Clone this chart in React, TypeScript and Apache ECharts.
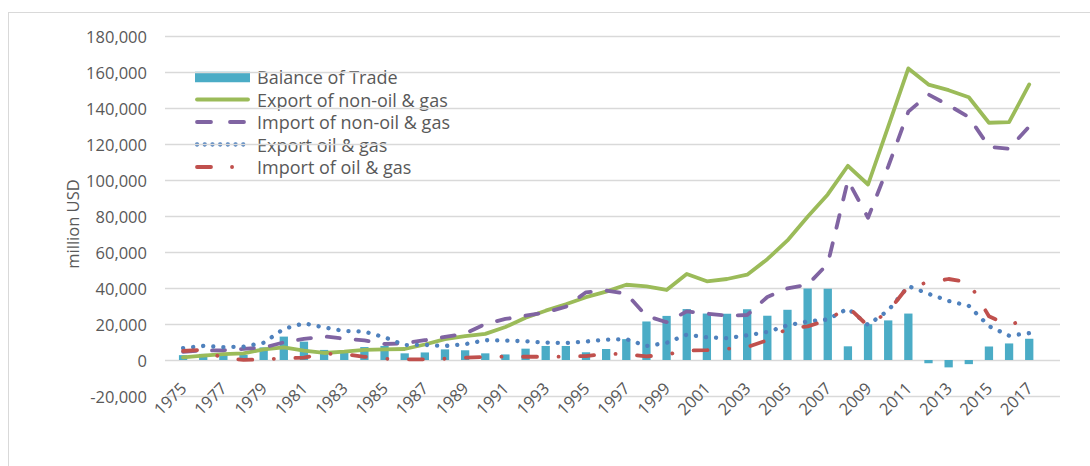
import React, { useEffect, useRef } from "react";
import * as echarts from "echarts";

// Years on the category axis
const years = [
  "1975", "1976", "1977", "1978", "1979", "1980", "1981", "1982", "1983", "1984",
  "1985", "1986", "1987", "1988", "1989", "1990", "1991", "1992", "1993", "1994",
  "1995", "1996", "1997", "1998", "1999", "2000", "2001", "2002", "2003", "2004",
  "2005", "2006", "2007", "2008", "2009", "2010", "2011", "2012", "2013", "2014",
  "2015", "2016", "2017",
];

// million USD
const balanceOfTrade = [
  2700, 3400, 3700, 2800, 7000, 13000, 10200, 5600, 5200, 7200,
  7800, 3700, 4200, 5900, 5400, 3700, 3100, 6300, 7800, 7800,
  4300, 6100, 11600, 21400, 24500, 28300, 25800, 25700, 28200, 24600,
  27900, 39700, 39600, 7600, 19900, 22000, 25800, -1800, -4100, -2300,
  7500, 9200, 11800,
];

const exportNonOilGas = [
  1500, 2400, 3300, 3700, 5900, 7000, 5200, 3900, 4600, 5600,
  5900, 6100, 8600, 11600, 13300, 14500, 18300, 23500, 27400, 31000,
  34900, 38000, 41800, 40900, 38900, 47800, 43700, 45000, 47400, 56000,
  66400, 79600, 92000, 107900, 97500, 129700, 162000, 153000, 149900, 146000,
  131800, 132100, 153100,
];

const importNonOilGas = [
  4500, 5300, 5400, 6200, 6900, 9800, 11700, 13100, 11800, 10900,
  8900, 9300, 11000, 12800, 14700, 20000, 22800, 24600, 26400, 29600,
  37600, 38600, 36800, 24500, 21000, 27000, 25800, 24600, 25000, 35000,
  39800, 41800, 53500, 99800, 79000, 107500, 138000, 147500, 141500, 135000,
  118500, 117300, 129800,
];

const exportOilGas = [
  6600, 7800, 7200, 7400, 9600, 17300, 20400, 18100, 16100, 15800,
  12600, 8300, 8400, 7800, 8800, 11000, 10800, 10400, 9700, 9400,
  10300, 11300, 11600, 7800, 9500, 14100, 12600, 12100, 13700, 15600,
  19300, 21400, 22500, 28600, 19500, 27500, 41000, 36800, 32800, 30100,
  18800, 13500, 14900,
];

const importOilGas = [
  5000, 5700, 900, 100, 300, 900, 1300, 3500, 3300, 1800,
  700, 400, 400, 700, 1300, 1700, 1900, 1800, 1800, 1900,
  2200, 3500, 3300, 2000, 3000, 5200, 5500, 6200, 7200, 11000,
  17500, 18700, 22200, 29500, 18900, 27000, 41000, 43000, 45000, 43200,
  24300, 19200, 23500,
];

const yTicks = { min: -20000, max: 180000, interval: 20000 };

const FONT = "'Open Sans', 'Noto Sans', sans-serif";
const TEXT = "#595959";
const GRID_LINE = "#D9D9D9";

const COLORS = {
  balance: "#4BACC6",
  exportNonOil: "#9BBB59",
  importNonOil: "#8064A2",
  exportOil: "#4F81BD",
  importOil: "#C0504D",
};

const LINE_W = 3.8;
const DOT_W = 4.3;

// Hand-drawn legend: icon column 195–250, text from x = 257
function legendGraphics() {
  const textX = 257;
  const rows = [77, 99.5, 122, 144.5, 167];
  const names = [
    "Balance of Trade",
    "Export of non-oil & gas",
    "Import of non-oil & gas",
    "Export oil & gas",
    "Import of oil & gas",
  ];
  const els: any[] = [];
  els.push({
    type: "rect",
    shape: { x: 195, y: rows[0] - 5.3, width: 55, height: 10.6 },
    style: { fill: COLORS.balance },
  });
  const lineIcon = (
    y: number,
    stroke: string,
    width: number,
    dash: number[] | null,
    xa: number,
    xb: number
  ) => ({
    type: "line",
    shape: { x1: xa, y1: y, x2: xb, y2: y },
    style: {
      stroke,
      lineWidth: width,
      lineCap: "round",
      lineDash: dash || undefined,
    },
  });
  els.push(lineIcon(rows[1], COLORS.exportNonOil, LINE_W, null, 197, 248));
  els.push(lineIcon(rows[2], COLORS.importNonOil, LINE_W, [14, 19], 197, 249));
  els.push(lineIcon(rows[3], COLORS.exportOil, DOT_W, [0.1, 7.6], 197, 250));
  els.push(lineIcon(rows[4], COLORS.importOil, LINE_W, [14, 21, 0.1, 40], 197, 240));
  names.forEach((n, i) => {
    els.push({
      type: "text",
      x: textX,
      y: rows[i],
      style: {
        text: n,
        fontSize: 18,
        fontFamily: FONT,
        fill: TEXT,
        align: "left",
        verticalAlign: "middle",
      },
    });
  });
  return els;
}

export default function App() {
  const ref = useRef<HTMLDivElement>(null);

  useEffect(() => {
    if (!ref.current) return;
    const chart = echarts.init(ref.current, undefined, { renderer: "svg" });

    const fmt = (v: number) => v.toLocaleString("en-US");

    chart.setOption({
      animation: false,
      backgroundColor: "#ffffff",
      textStyle: { fontFamily: FONT },
      grid: [
        // data area
        { left: 173, right: 50.7, top: 36, bottom: 70 },
        // value gridlines and tick labels
        { left: 165, right: 30, top: 36, bottom: 70 },
      ],
      xAxis: [
        {
          gridIndex: 0,
          type: "category",
          data: years,
          boundaryGap: true,
          axisLine: { show: false, onZero: false },
          axisTick: { show: false },
          axisLabel: {
            interval: 1,
            rotate: 45,
            margin: -11,
            fontSize: 16.5,
            color: TEXT,
            fontFamily: FONT,
          },
        },
        { gridIndex: 1, type: "value", show: false },
      ],
      yAxis: [
        {
          gridIndex: 0,
          type: "value",
          ...yTicks,
          axisLine: { show: false },
          axisTick: { show: false },
          axisLabel: { show: false },
          splitLine: { show: false },
        },
        {
          gridIndex: 1,
          type: "value",
          ...yTicks,
          axisLine: { show: false },
          axisTick: { show: false },
          axisLabel: {
            formatter: fmt,
            fontSize: 16.5,
            color: TEXT,
            fontFamily: FONT,
            margin: 18,
          },
          splitLine: { lineStyle: { color: GRID_LINE, width: 1.3 } },
        },
      ],
      graphic: [
        {
          type: "line",
          shape: { x1: 8, y1: 12.5, x2: 1090, y2: 12.5 },
          style: { stroke: GRID_LINE, lineWidth: 1 },
        },
        {
          type: "line",
          shape: { x1: 8.5, y1: 12, x2: 8.5, y2: 466 },
          style: { stroke: GRID_LINE, lineWidth: 1 },
        },
        {
          type: "text",
          x: 72,
          y: 224,
          rotation: Math.PI / 2,
          style: {
            text: "million USD",
            fontSize: 16.5,
            fontFamily: FONT,
            fill: TEXT,
            align: "center",
            verticalAlign: "middle",
          },
        },
        ...legendGraphics(),
      ],
      series: [
        {
          name: "Balance of Trade",
          type: "bar",
          xAxisIndex: 0,
          yAxisIndex: 0,
          data: balanceOfTrade,
          barWidth: 8.3,
          itemStyle: { color: COLORS.balance },
        },
        {
          name: "Export of non-oil & gas",
          type: "line",
          xAxisIndex: 0,
          yAxisIndex: 0,
          data: exportNonOilGas,
          symbol: "none",
          lineStyle: { color: COLORS.exportNonOil, width: LINE_W, cap: "round", join: "round" },
        },
        {
          name: "Import of non-oil & gas",
          type: "line",
          xAxisIndex: 0,
          yAxisIndex: 0,
          data: importNonOilGas,
          symbol: "none",
          lineStyle: {
            color: COLORS.importNonOil,
            width: LINE_W,
            type: [13, 16],
            cap: "round",
            join: "round",
          },
        },
        {
          name: "Export oil & gas",
          type: "line",
          xAxisIndex: 0,
          yAxisIndex: 0,
          data: exportOilGas,
          symbol: "none",
          lineStyle: {
            color: COLORS.exportOil,
            width: DOT_W,
            type: [0.1, 10],
            cap: "round",
            join: "round",
          },
        },
        {
          name: "Import of oil & gas",
          type: "line",
          xAxisIndex: 0,
          yAxisIndex: 0,
          data: importOilGas,
          symbol: "none",
          lineStyle: {
            color: COLORS.importOil,
            width: LINE_W,
            type: [14, 21.5, 0.1, 21.5],
            cap: "round",
            join: "round",
          },
        },
      ],
    });

    return () => chart.dispose();
  }, []);

  return (
    <div
      style={{
        position: "fixed",
        left: 0,
        top: 0,
        width: 1090,
        height: 466,
        background: "#fff",
      }}
    >
      <div ref={ref} style={{ width: 1090, height: 466 }} />
    </div>
  );
}
